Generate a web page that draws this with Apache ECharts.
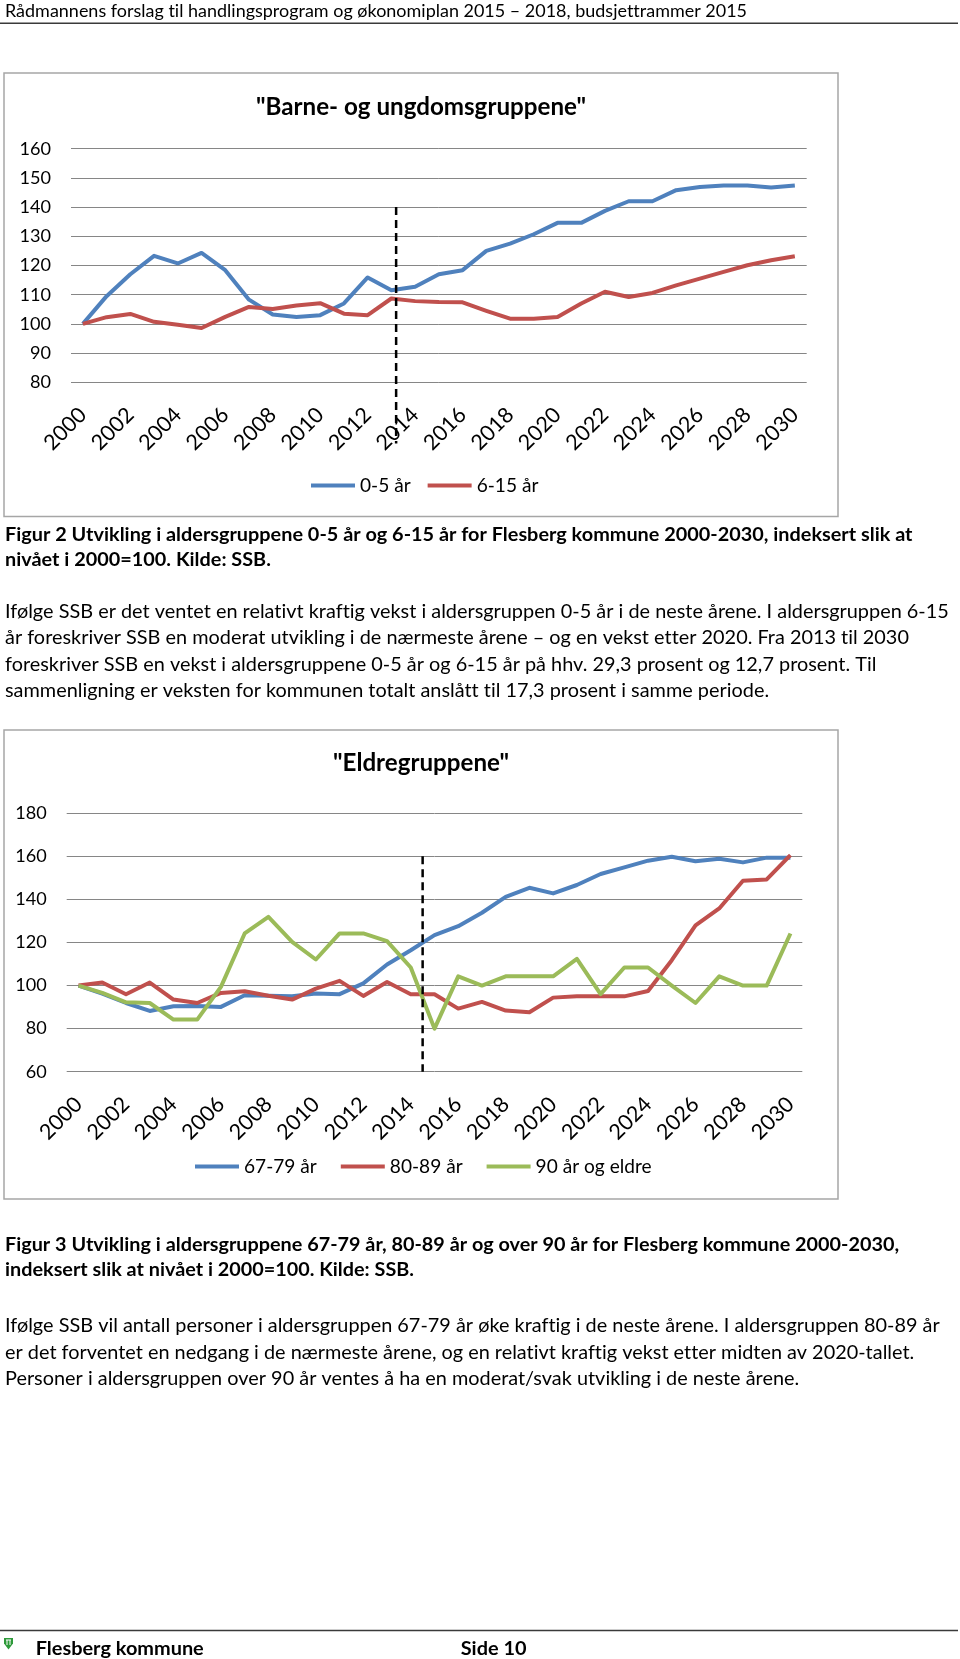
<!DOCTYPE html>
<html><head><meta charset="utf-8">
<script src="https://cdn.jsdelivr.net/npm/echarts@6/dist/echarts.min.js"></script>
<style>html,body{margin:0;padding:0;background:#fff}#c{width:960px;height:1659px}</style>
</head><body><div id="c"></div>
<script>
// ---------- DATA ----------
const years = ['2000','2001','2002','2003','2004','2005','2006','2007','2008','2009','2010',
  '2011','2012','2013','2014','2015','2016','2017','2018','2019','2020',
  '2021','2022','2023','2024','2025','2026','2027','2028','2029','2030'];

const age0_5 = [100,109.5,117,123.3,120.7,124.3,118.4,108.3,103.2,102.4,103,
  107,115.9,111.5,112.7,117,118.4,125,127.5,130.7,134.6,
  134.6,138.7,142,142,145.8,146.9,147.4,147.4,146.7,147.4];
const age6_15 = [100,102.3,103.4,100.7,99.7,98.6,102.4,105.8,105.1,106.3,107.1,
  103.5,103,108.7,107.8,107.5,107.4,104.5,101.8,101.8,102.4,
  107,111,109.2,110.6,113.2,115.5,117.8,120.1,121.8,123.2];

const age67_79 = [100,96.3,91.9,88.2,90.4,90.5,90.1,95.5,95.3,95,96.3,
  96,101,109.8,116.4,123.4,127.6,133.8,141.2,145.4,142.8,
  146.7,151.8,154.9,158,159.8,157.7,158.9,157.2,159.4,159.4];
const age80_89 = [100,101.4,96,101.4,93.5,91.9,96.6,97.4,95.3,93.5,98.6,
  102.2,95.2,101.7,96,96,89.3,92.4,88.4,87.6,94.4,
  95,95,95,97.5,111.8,127.9,135.8,148.7,149.3,160.6];
const age90 = [100,96.6,92.2,91.9,84.2,84.2,99.4,124.2,131.9,120.3,112.1,
  124.2,124.2,120.6,108.4,80,104.3,100,104.3,104.3,104.3,
  112.4,96,108.4,108.4,100,91.9,104.3,100,100,124.2];

const names1 = ['0-5 år','6-15 år'];
const names2 = ['67-79 år','80-89 år','90 år og eldre'];
const title1 = '"Barne- og ungdomsgruppene"';
const title2 = '"Eldregruppene"';

const headerText = 'Rådmannens forslag til handlingsprogram og økonomiplan 2015 – 2018, budsjettrammer 2015';
const caption1 = ['Figur 2 Utvikling i aldersgruppene 0-5 år og 6-15 år for Flesberg kommune 2000-2030, indeksert slik at',
  'nivået i 2000=100. Kilde: SSB.'];
const para1 = ['Ifølge SSB er det ventet en relativt kraftig vekst i aldersgruppen 0-5 år i de neste årene. I aldersgruppen 6-15',
  'år foreskriver SSB en moderat utvikling i de nærmeste årene – og en vekst etter 2020. Fra 2013 til 2030',
  'foreskriver SSB en vekst i aldersgruppene 0-5 år og 6-15 år på hhv. 29,3 prosent og 12,7 prosent. Til',
  'sammenligning er veksten for kommunen totalt anslått til 17,3 prosent i samme periode.'];
const caption2 = ['Figur 3 Utvikling i aldersgruppene 67-79 år, 80-89 år og over 90 år for Flesberg kommune 2000-2030,',
  'indeksert slik at nivået i 2000=100. Kilde: SSB.'];
const para2 = ['Ifølge SSB vil antall personer i aldersgruppen 67-79 år øke kraftig i de neste årene. I aldersgruppen 80-89 år',
  'er det forventet en nedgang i de nærmeste årene, og en relativt kraftig vekst etter midten av 2020-tallet.',
  'Personer i aldersgruppen over 90 år ventes å ha en moderat/svak utvikling i de neste årene.'];
const footerLeft = 'Flesberg kommune';
const footerRight = 'Side 10';

// ---------- no ligatures (reference font has no "ti"/"tt" ligatures) ----------
(function () {
  const P = CanvasRenderingContext2D.prototype;
  const of = P.fillText, om = P.measureText;
  function prep(c) { try { c.textRendering = 'optimizeSpeed'; } catch (e) {} try { c.letterSpacing = '0.01px'; } catch (e) {} }
  P.fillText = function () { prep(this); return of.apply(this, arguments); };
  P.measureText = function () { prep(this); return om.apply(this, arguments); };
})();

// ---------- LAYOUT HELPERS ----------
const FONT = 'Lato';
const mctx = document.createElement('canvas').getContext('2d');
function fit(text, width, bold) {
  mctx.font = (bold ? 'bold ' : '') + '100px ' + FONT;
  return 100 * width / mctx.measureText(text).width;
}
function txt(text, x, baseline, fs, bold, align) {
  return { type: 'text', x: x, y: baseline - 0.32 * fs, silent: true,
    style: { text: text, font: (bold ? 'bold ' : '') + fs.toFixed(2) + 'px ' + FONT,
      fill: '#000', align: align || 'left', verticalAlign: 'middle' } };
}
function block(lines, x, firstBase, step, fs, bold) {
  return lines.map((l, i) => txt(l, x, firstBase + i * step, fs, bold));
}

const BLUE = '#4F81BD', RED = '#C0504D', GREEN = '#9BBB59';
const axisFs = fit('160', 31.5, false);
const xFs = 21.5;
const legendFs = fit('90 år og eldre', 116, false);

const graphics = [];
// header
const hFs = fit(headerText, 742, false);
graphics.push(txt(headerText, 5, 17, hFs, false));
graphics.push({ type: 'line', silent: true, shape: { x1: 0, y1: 23.3, x2: 958, y2: 23.3 }, style: { stroke: '#3a3a3a', lineWidth: 1.5 } });
// frames
graphics.push({ type: 'rect', silent: true, shape: { x: 4, y: 73, width: 834, height: 443.5 }, style: { fill: 'none', stroke: '#A6A6A6', lineWidth: 1.5 } });
graphics.push({ type: 'rect', silent: true, shape: { x: 4, y: 730, width: 834, height: 469 }, style: { fill: 'none', stroke: '#A6A6A6', lineWidth: 1.5 } });
// chart titles
graphics.push(txt(title1, 421, 115, fit(title1, 330, true), true, 'center'));
graphics.push(txt(title2, 421, 771, fit(title2, 176, true), true, 'center'));
// captions and paragraphs
const c1Fs = fit(caption1[0], 907, true);
graphics.push(...block(caption1, 5, 541, 24.5, c1Fs, true));
const p1Fs = fit(para1[0], 943, false);
graphics.push(...block(para1, 5, 618, 26.3, p1Fs, false));
const c2Fs = fit(caption2[0], 894, true);
graphics.push(...block(caption2, 5, 1251, 25, c2Fs, true));
const p2Fs = fit(para2[0], 935, false);
graphics.push(...block(para2, 5, 1332, 26.5, p2Fs, false));
// footer
graphics.push({ type: 'line', silent: true, shape: { x1: 0, y1: 1630.5, x2: 958, y2: 1630.5 }, style: { stroke: '#3a3a3a', lineWidth: 1.5 } });
graphics.push({ type: 'polygon', silent: true, shape: { points: [[4, 1638], [13, 1638], [13, 1643.5], [8.5, 1649.5], [4, 1643.5]] }, style: { fill: '#2E9A3A' } });
graphics.push({ type: 'polyline', silent: true, shape: { points: [[6, 1640], [11, 1640]] }, style: { stroke: '#fff', lineWidth: 1 } });
graphics.push({ type: 'polyline', silent: true, shape: { points: [[7, 1640], [7, 1645]] }, style: { stroke: '#fff', lineWidth: 1 } });
graphics.push({ type: 'polyline', silent: true, shape: { points: [[10, 1640], [10, 1645]] }, style: { stroke: '#fff', lineWidth: 1 } });
const fFs = fit(footerLeft, 168, true);
graphics.push(txt(footerLeft, 35.7, 1655, fFs, true));
graphics.push(txt(footerRight, 460.7, 1655, fFs, true));

// ---------- CHART ----------
function xAxis(gi) {
  return { type: 'category', gridIndex: gi, data: years, boundaryGap: true,
    axisLine: { show: false }, axisTick: { show: false },
    axisLabel: { interval: 1, rotate: 45, margin: 29, fontFamily: FONT, fontSize: xFs, color: '#000' } };
}
function yAxis(gi, min, max, interval) {
  return { type: 'value', gridIndex: gi, min: min, max: max, interval: interval,
    axisLine: { show: false }, axisTick: { show: false },
    axisLabel: { margin: 20, fontFamily: FONT, fontSize: axisFs, color: '#000' },
    splitLine: { show: true, lineStyle: { color: '#868686', width: 1 } } };
}
function line(name, data, color, gi) {
  return { type: 'line', name: name, data: data, xAxisIndex: gi, yAxisIndex: gi,
    symbol: 'none', smooth: false, color: color,
    lineStyle: { color: color, width: 4, join: 'round' }, emphasis: { disabled: true } };
}

const chart = echarts.init(document.getElementById('c'), null, { renderer: 'canvas', width: 960, height: 1659 });
const option = {
  animation: false,
  backgroundColor: '#fff',
  grid: [
    { left: 71, top: 148.7, width: 735.7, height: 233.6 },
    { left: 66.7, top: 813.3, width: 735.6, height: 258.4 }
  ],
  xAxis: [xAxis(0), xAxis(1)],
  yAxis: [yAxis(0, 80, 160, 10), yAxis(1, 60, 180, 20)],
  legend: [
    { data: names1, left: 306, top: 471, itemWidth: 44, itemHeight: 4, itemGap: 17, icon: 'rect',
      textStyle: { fontFamily: FONT, fontSize: legendFs, color: '#000' } },
    { data: names2, left: 190, top: 1152, itemWidth: 44, itemHeight: 4, itemGap: 24, icon: 'rect',
      textStyle: { fontFamily: FONT, fontSize: legendFs, color: '#000' } }
  ],
  series: [
    line(names1[0], age0_5, BLUE, 0),
    line(names1[1], age6_15, RED, 0),
    line(names2[0], age67_79, BLUE, 1),
    line(names2[1], age80_89, RED, 1),
    line(names2[2], age90, GREEN, 1)
  ],
  graphic: graphics
};
chart.setOption(option);

// dashed divider lines (document annotation), positioned through the axes
const a = chart.convertToPixel({ gridIndex: 0 }, ['2013', 140]);
const b = chart.convertToPixel({ gridIndex: 0 }, ['2014', 59]);
const x1 = a[0] + 0.2 * (b[0] - a[0]);
const c = chart.convertToPixel({ gridIndex: 1 }, ['2014', 160]);
const d = chart.convertToPixel({ gridIndex: 1 }, ['2015', 60]);
const x2 = (c[0] + d[0]) / 2;
chart.setOption({ graphic: graphics.concat([
  { type: 'line', silent: true, z: 100, shape: { x1: x1, y1: a[1], x2: x1, y2: b[1] }, style: { stroke: '#000', lineWidth: 2.5, lineDash: [8, 5] } },
  { type: 'line', silent: true, z: 100, shape: { x1: x2, y1: c[1], x2: x2, y2: d[1] }, style: { stroke: '#000', lineWidth: 2.5, lineDash: [8, 5] } }
]) }, { replaceMerge: ['graphic'] });
</script>
</body></html>
